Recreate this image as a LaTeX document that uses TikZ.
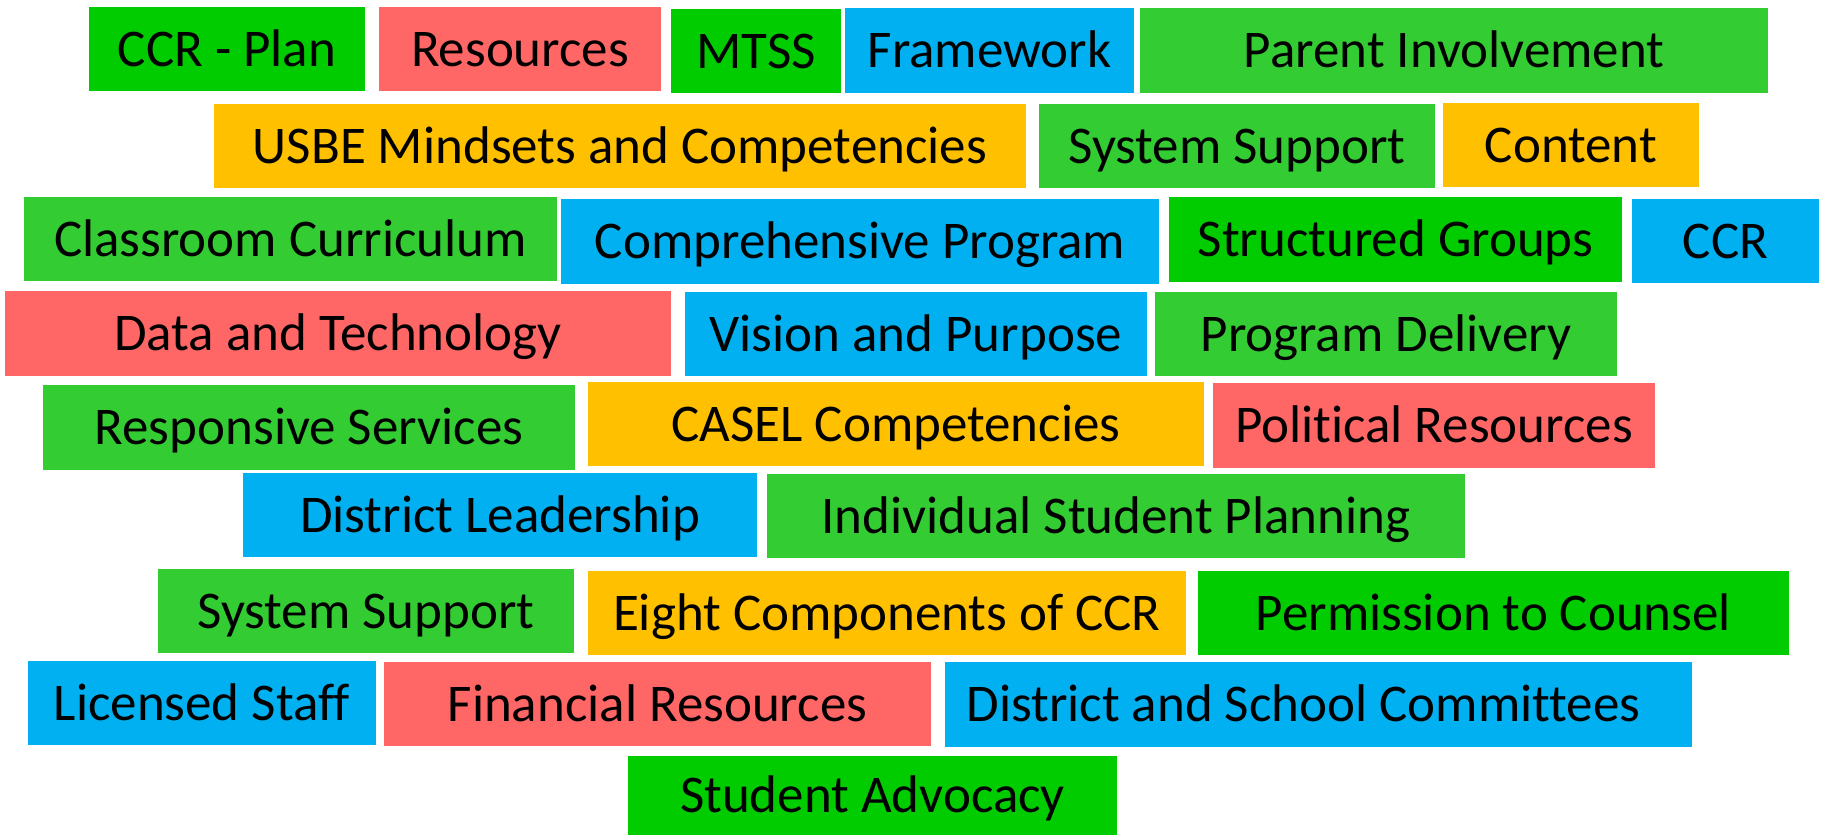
\documentclass[tikz,border=0pt]{standalone}
\usepackage{fontspec}
\setmainfont[Ligatures=NoCommon]{Carlito}
\definecolor{gA}{HTML}{00CC00}
\definecolor{gB}{HTML}{33CC33}
\definecolor{sal}{HTML}{FF6666}
\definecolor{blu}{HTML}{00B0F0}
\definecolor{org}{HTML}{FFC000}
\tikzset{
  tag/.style={draw=none, inner sep=0pt, outer sep=0pt, text height=34pt, text depth=0pt,
    font=\fontsize{53}{62}\selectfont, text=black}
}
\newcommand{\bx}[7]{%
  \node[tag, fill=#6, minimum width={(#4-#2)*1pt}, minimum height={(#5-#3)*1pt}]
    (#1) at ({(#2+#4)/2}, {(#3+#5)/2}) {#7};}
\begin{document}
\begin{tikzpicture}[x=1pt, y=-1pt]
\useasboundingbox (0,0) rectangle (1823,835);
% row 1
\bx{ccrplan}{89}{7}{365}{91}{gA}{CCR - Plan}
\bx{res}{379}{7}{661}{91}{sal}{Resources}
\bx{mtss}{671}{9}{841}{93}{gA}{MTSS}
\bx{frame}{845}{8}{1134}{93}{blu}{Framework}
\bx{parent}{1140}{8}{1768}{93}{gB}{Parent Involvement}
% row 2
\bx{usbe}{214}{104}{1026}{188}{org}{USBE Mindsets and Competencies}
\bx{sys1}{1039}{104}{1435}{188}{gB}{System Support}
\bx{content}{1443}{103}{1699}{187}{org}{Content}
% row 3
\bx{class}{24}{197}{557}{281}{gB}{Classroom Curriculum}
\bx{comp}{561}{199}{1159}{284}{blu}{Comprehensive Program}
\bx{struct}{1169}{197}{1622}{282}{gA}{Structured Groups}
\bx{ccr}{1632}{199}{1819}{283}{blu}{CCR}
% row 4
\bx{data}{5}{291}{671}{376}{sal}{Data and Technology}
\bx{vision}{685}{292}{1147}{376}{blu}{Vision and Purpose}
\bx{progdel}{1155}{292}{1617}{376}{gB}{Program Delivery}
% row 5
\bx{resp}{43}{385}{575}{470}{gB}{Responsive Services}
\bx{casel}{588}{382}{1204}{466}{org}{CASEL Competencies}
\bx{pol}{1213}{383}{1655}{468}{sal}{Political Resources}
% row 6
\bx{distl}{243}{473}{757}{557}{blu}{District Leadership}
\bx{indiv}{767}{474}{1465}{558}{gB}{Individual Student Planning}
% row 7
\bx{sys2}{158}{569}{574}{653}{gB}{System Support}
\bx{eight}{588}{571}{1186}{655}{org}{Eight Components of CCR}
\bx{perm}{1198}{571}{1789}{655}{gA}{Permission to Counsel}
% row 8
\bx{lic}{28}{661}{376}{745}{blu}{Licensed Staff}
\bx{fin}{384}{662}{931}{746}{sal}{Financial Resources}
\bx{dsc}{945}{662}{1692}{747}{blu}{District and School Committees\kern30pt}
% row 9
\bx{adv}{628}{756}{1117}{835}{gA}{Student Advocacy}
\end{tikzpicture}
\end{document}
